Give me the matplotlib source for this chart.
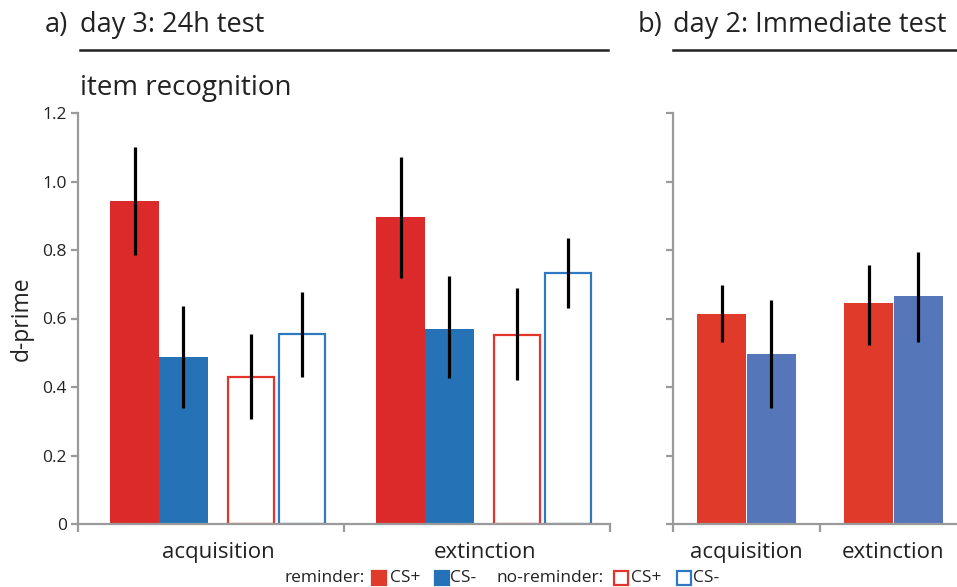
import matplotlib.pyplot as plt
from matplotlib.patches import Rectangle
from matplotlib.lines import Line2D
import numpy as np

plt.rcParams['font.family'] = ['Open Sans', 'DejaVu Sans']

# ---- data ----
categories = ['acquisition', 'extinction']

# panel a: day 3, 24h test (item recognition)
rem_csp = [0.942, 0.897]
rem_csp_lo = [0.784, 0.719]
rem_csp_hi = [1.101, 1.072]
rem_csm = [0.489, 0.569]
rem_csm_lo = [0.338, 0.427]
rem_csm_hi = [0.636, 0.724]
norem_csp = [0.430, 0.552]
norem_csp_lo = [0.307, 0.420]
norem_csp_hi = [0.554, 0.688]
norem_csm = [0.555, 0.734]
norem_csm_lo = [0.430, 0.632]
norem_csm_hi = [0.678, 0.834]

# panel b: day 2, immediate test
imm_csp = [0.613, 0.644]
imm_csp_lo = [0.532, 0.523]
imm_csp_hi = [0.698, 0.756]
imm_csm = [0.496, 0.666]
imm_csm_lo = [0.338, 0.532]
imm_csm_hi = [0.654, 0.794]

yticks = [0, 0.2, 0.4, 0.6, 0.8, 1.0, 1.2]
ytick_labels = ['0', '0.2', '0.4', '0.6', '0.8', '1.0', '1.2']

# ---- style ----
W, H = 957, 587
RED = '#DC2A2A'
BLUE = '#2573B6'
RED2 = '#E03A2A'
BLUE2 = '#5576B8'
OPEN_RED = '#E5352B'
OPEN_BLUE = '#2F79C2'
GRAY = '#9A9A9A'
TXT = '#222222'

fig = plt.figure(figsize=(W / 100, H / 100), dpi=100)


def px(x0, y0, x1, y1):
    """pixel box (left, top, right, bottom) -> figure rect"""
    return [x0 / W, 1 - y1 / H, (x1 - x0) / W, (y1 - y0) / H]


def style_axes(ax, show_labels, label_shift=0.0):
    ax.set_ylim(0, 1.2)
    ax.set_xlim(-0.5, 1.5)
    for s in ['top', 'right']:
        ax.spines[s].set_visible(False)
    for s in ['left', 'bottom']:
        ax.spines[s].set_color(GRAY)
        ax.spines[s].set_linewidth(1.6)
    ax.spines['left'].set_bounds(0, 1.2)
    ax.set_yticks(yticks)
    ax.set_yticklabels(ytick_labels if show_labels else [])
    ax.tick_params(axis='y', colors=GRAY, length=5, width=1.6, labelsize=12.5,
                   labelcolor=TXT, pad=3)
    ax.set_xticks([-0.5, 0.5, 1.5])
    ax.set_xticklabels([])
    ax.tick_params(axis='x', which='major', colors=GRAY, length=6, width=1.6)
    ax.set_xticks(np.arange(len(categories)) + label_shift, minor=True)
    ax.set_xticklabels(categories, minor=True)
    ax.tick_params(axis='x', which='minor', length=0, labelsize=16,
                   labelcolor=TXT, pad=13)


err_kw = dict(ecolor='black', elinewidth=2.3, capsize=0)
x = np.arange(len(categories))


def yerr(v, lo, hi):
    return [np.array(v) - np.array(lo), np.array(hi) - np.array(v)]


# ---- panel a ----
w = 0.184
offs = [-0.286, -0.104, 0.150, 0.343]
axa = fig.add_axes(px(78, 113, 610, 524))
style_axes(axa, True, label_shift=(offs[0] + offs[3]) / 2)

axa.bar(x + offs[0], rem_csp, w, color=RED, yerr=yerr(rem_csp, rem_csp_lo, rem_csp_hi),
        error_kw=err_kw, zorder=2)
axa.bar(x + offs[1], rem_csm, w, color=BLUE, yerr=yerr(rem_csm, rem_csm_lo, rem_csm_hi),
        error_kw=err_kw, zorder=2)
axa.bar(x + offs[2], norem_csp, w - 0.01, facecolor='white', edgecolor=OPEN_RED,
        linewidth=1.6, yerr=yerr(norem_csp, norem_csp_lo, norem_csp_hi),
        error_kw=err_kw, zorder=2)
axa.bar(x + offs[3], norem_csm, w - 0.01, facecolor='white', edgecolor=OPEN_BLUE,
        linewidth=1.6, yerr=yerr(norem_csm, norem_csm_lo, norem_csm_hi),
        error_kw=err_kw, zorder=2)
axa.set_ylabel('d-prime', fontsize=16.5, color=TXT, labelpad=6)

# ---- panel b ----
axb = fig.add_axes(px(673, 113, 967, 524))
style_axes(axb, False)
w2 = 0.337
axb.bar(x - 0.169, imm_csp, w2, color=RED2, yerr=yerr(imm_csp, imm_csp_lo, imm_csp_hi),
        error_kw=err_kw, zorder=2)
axb.bar(x + 0.169, imm_csm, w2, color=BLUE2, yerr=yerr(imm_csm, imm_csm_lo, imm_csm_hi),
        error_kw=err_kw, zorder=2)

# ---- titles and rules ----
tkw = dict(fontsize=19.5, color=TXT, va='baseline', ha='left')
fig.text(45 / W, 1 - 32 / H, 'a)', **tkw)
fig.text(80 / W, 1 - 32 / H, 'day 3: 24h test', **tkw)
fig.text(638 / W, 1 - 32 / H, 'b)', **tkw)
fig.text(673 / W, 1 - 32 / H, 'day 2: Immediate test', **tkw)
fig.text(80 / W, 1 - 95 / H, 'item recognition', fontsize=20, color=TXT,
         va='baseline', ha='left')
fig.add_artist(Line2D([80 / W, 608 / W], [1 - 50 / H] * 2, color=TXT, lw=1.8))
fig.add_artist(Line2D([673 / W, 957 / W], [1 - 50 / H] * 2, color=TXT, lw=1.8))

# ---- legend ----
ly = 1 - 578 / H
lkw = dict(fontsize=12.5, color=TXT, va='center', ha='left')
fig.text(285 / W, ly, 'reminder:', **lkw)
fig.text(390 / W, ly, 'CS+', **lkw)
fig.text(450 / W, ly, 'CS-', **lkw)
fig.text(496 / W, ly, 'no-reminder:', **lkw)
fig.text(631 / W, ly, 'CS+', **lkw)
fig.text(693 / W, ly, 'CS-', **lkw)
sq = 14
for x0, fc, ec in [(372, RED2, RED2), (435, BLUE, BLUE),
                   (614, 'white', OPEN_RED), (677, 'white', OPEN_BLUE)]:
    fig.add_artist(Rectangle((x0 / W, 1 - 585 / H), sq / W, sq / H,
                             facecolor=fc, edgecolor=ec, lw=1.6,
                             transform=fig.transFigure))

fig.savefig('out.png', dpi=100)
